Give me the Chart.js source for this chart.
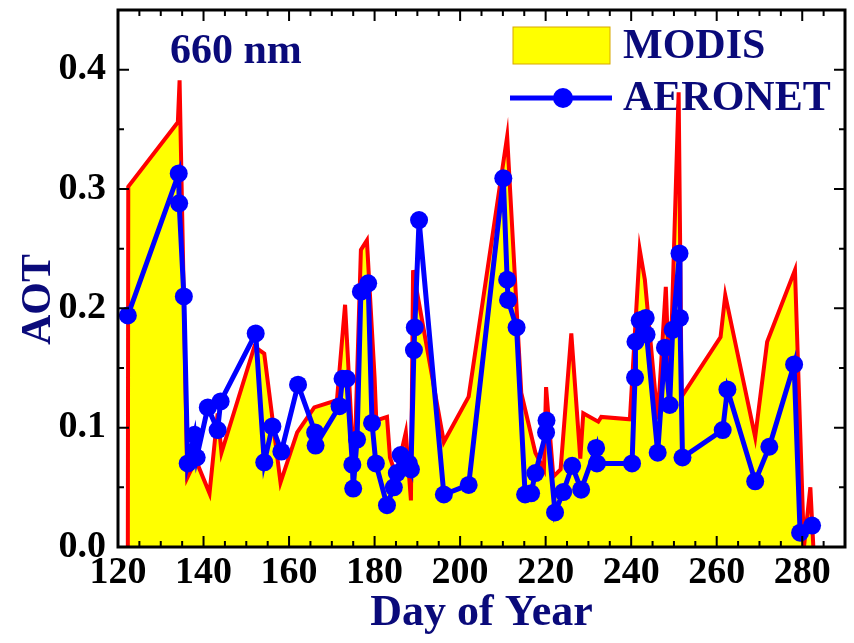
<!DOCTYPE html>
<html>
<head>
<meta charset="utf-8">
<script src="https://cdn.jsdelivr.net/npm/chart.js@4.4.1/dist/chart.umd.min.js"></script>
<style>
  html, body { margin: 0; padding: 0; background: #fff; }
  #wrap { width: 854px; height: 643px; }
</style>
</head>
<body>
<div id="wrap"><canvas id="aot" width="854" height="643"></canvas></div>
<script>
// MODIS (red outline, yellow fill)
const modisDays = [122.3, 122.4, 134.0, 134.4, 136.2, 138.2, 141.4, 143.3, 144.2, 151.9, 154.2, 158.0,
  161.9, 165.9, 171.2, 173.1, 174.2, 175.2, 176.8, 178.2, 180.0, 180.4, 182.9, 183.6, 185.0, 187.3,
  188.5, 189.0, 196.2, 202.0, 211.0, 214.3, 217.6, 219.6, 220.1, 221.8, 223.5, 226.0, 228.1, 228.8,
  232.3, 233.0, 239.7, 242.0, 243.2, 246.2, 248.1, 249.0, 251.1, 251.8, 260.9, 262.0, 269.0, 271.8,
  278.3, 280.4, 281.9, 282.6];
const modisAot = [0, 0.302, 0.356, 0.391, 0.058, 0.073, 0.045, 0.112, 0.079, 0.168, 0.162, 0.054,
  0.096, 0.117, 0.123, 0.203, 0.129, 0.059, 0.249, 0.257, 0.142, 0.106, 0.109, 0.075, 0.060, 0.096,
  0.039, 0.232, 0.088, 0.126, 0.344, 0.129, 0.079, 0.065, 0.134, 0.059, 0.065, 0.179, 0.074, 0.112,
  0.105, 0.109, 0.107, 0.249, 0.224, 0.107, 0.218, 0.129, 0.381, 0.126, 0.176, 0.211, 0.092, 0.172,
  0.232, 0, 0.050, 0];

// AERONET (blue line + dots)
const aeronetDays = [122.3, 134.2, 134.3, 135.4, 136.3, 137.9, 138.4, 141.0, 143.3, 144.0, 152.2, 154.2,
  156.1, 158.2, 162.1, 166.1, 166.2, 171.8, 172.5, 173.5, 174.8, 175.0, 175.9, 176.8, 178.5, 179.4,
  180.3, 182.9, 184.5, 185.2, 186.1, 188.0, 188.5, 189.2, 189.4, 190.4, 196.2, 202.0, 210.1, 211.0,
  211.2, 213.2, 215.2, 216.6, 217.6, 220.1, 220.2, 222.2, 224.1, 226.2, 228.3, 231.8, 232.0, 240.2,
  240.9, 241.0, 242.0, 243.4, 243.6, 246.2, 247.9, 249.0, 249.7, 251.3, 251.4, 252.0, 261.4, 262.5,
  269.0, 272.3, 278.1, 279.5, 282.3];
const aeronetAot = [0.194, 0.313, 0.288, 0.210, 0.070, 0.094, 0.075, 0.117, 0.098, 0.122, 0.179, 0.071,
  0.101, 0.080, 0.136, 0.096, 0.085, 0.118, 0.141, 0.141, 0.069, 0.049, 0.090, 0.214, 0.221, 0.104,
  0.070, 0.035, 0.050, 0.062, 0.077, 0.070, 0.065, 0.165, 0.184, 0.274, 0.044, 0.052, 0.309, 0.224,
  0.207, 0.184, 0.044, 0.045, 0.062, 0.096, 0.106, 0.029, 0.046, 0.068, 0.048, 0.083, 0.070, 0.070,
  0.142, 0.172, 0.190, 0.192, 0.178, 0.079, 0.167, 0.119, 0.182, 0.246, 0.192, 0.075, 0.098, 0.132,
  0.055, 0.084, 0.153, 0.012, 0.018];

const serif = "'Liberation Serif', 'Times New Roman', serif";
const navy = "#0a0a7a";

function pairs(xs, ys) {
  return xs.map((x, i) => ({ x: x, y: ys[i] }));
}

function isMajorY(v) { return Math.round(v * 100) % 10 === 0; }

// inward ticks on all four sides + frame
const frameTicks = {
  id: "frameTicks",
  afterDatasetsDraw(chart) {
    const { ctx, chartArea: a, scales } = chart;
    ctx.save();
    ctx.strokeStyle = "#000";
    ctx.lineWidth = 2;
    ctx.beginPath();
    scales.x.ticks.forEach(t => {
      const px = scales.x.getPixelForValue(t.value);
      const len = t.value % 20 === 0 ? 11 : 6;
      ctx.moveTo(px, a.bottom); ctx.lineTo(px, a.bottom - len);
      ctx.moveTo(px, a.top); ctx.lineTo(px, a.top + len);
    });
    scales.y.ticks.forEach(t => {
      const py = scales.y.getPixelForValue(t.value);
      const len = isMajorY(t.value) ? 11 : 6;
      ctx.moveTo(a.left, py); ctx.lineTo(a.left + len, py);
      ctx.moveTo(a.right, py); ctx.lineTo(a.right - len, py);
    });
    ctx.stroke();
    ctx.lineWidth = 3;
    ctx.strokeRect(a.left, a.top, a.right - a.left, a.bottom - a.top);
    ctx.restore();
  }
};

// legend + wavelength label, under the data lines
const notes = {
  id: "notes",
  beforeDatasetsDraw(chart) {
    const ctx = chart.ctx;
    ctx.save();
    ctx.fillStyle = navy;
    ctx.textBaseline = "middle";
    ctx.font = "bold 42px " + serif;
    ctx.fillText("660 nm", 170, 52);

    ctx.fillStyle = "#ffff00";
    ctx.fillRect(513, 27, 97, 37);
    ctx.strokeStyle = "#d8a800";
    ctx.lineWidth = 1;
    ctx.strokeRect(513, 27, 97, 37);

    ctx.strokeStyle = "#0000ff";
    ctx.lineWidth = 5;
    ctx.beginPath();
    ctx.moveTo(510, 98); ctx.lineTo(612, 98);
    ctx.stroke();
    ctx.fillStyle = "#0000ff";
    ctx.beginPath();
    ctx.arc(563, 98, 10, 0, Math.PI * 2);
    ctx.fill();

    ctx.fillStyle = navy;
    ctx.font = "bold 42px " + serif;
    ctx.fillText("MODIS", 623, 47);
    ctx.fillText("AERONET", 623, 99);
    ctx.restore();
  }
};

new Chart(document.getElementById("aot"), {
  type: "line",
  data: {
    datasets: [
      {
        label: "AERONET",
        data: pairs(aeronetDays, aeronetAot),
        borderColor: "#0000ff",
        backgroundColor: "#0000ff",
        borderWidth: 5,
        pointRadius: 9,
        pointBorderWidth: 0,
        fill: false,
        order: 0,
      },
      {
        label: "MODIS",
        data: pairs(modisDays, modisAot),
        borderColor: "#ff0000",
        backgroundColor: "#ffff00",
        borderWidth: 4,
        pointRadius: 0,
        fill: "origin",
        order: 1,
      },
    ],
  },
  options: {
    responsive: false,
    animation: false,
    layout: { padding: { top: 10, right: 6, left: 0, bottom: 0 } },
    plugins: { legend: { display: false }, tooltip: { enabled: false } },
    scales: {
      x: {
        type: "linear",
        min: 120,
        max: 290,
        grid: { display: false, drawTicks: false },
        border: { display: false },
        afterFit: s => {
          s.height = 96;
          s.paddingLeft = 0;
          s.paddingRight = 0;
        },
        ticks: {
          stepSize: 5,
          autoSkip: false,
          maxRotation: 0,
          padding: 3,
          color: "#000",
          font: { family: serif, size: 38, weight: "bold" },
          callback: v => (v % 20 === 0 ? v : ""),
        },
        title: {
          display: true,
          text: "Day of Year",
          color: navy,
          font: { family: serif, size: 44, weight: "bold" },
          padding: { top: 0, bottom: 3 },
        },
      },
      y: {
        min: 0,
        max: 0.45,
        grid: { display: false, drawTicks: false },
        border: { display: false },
        afterFit: s => {
          s.width = 118;
          s.paddingTop = 0;
          s.paddingBottom = 0;
        },
        ticks: {
          stepSize: 0.05,
          autoSkip: false,
          padding: 12,
          color: "#000",
          font: { family: serif, size: 38, weight: "bold" },
          callback: v => (isMajorY(v) ? (Math.round(v * 10) / 10).toFixed(1) : ""),
        },
        title: {
          display: true,
          text: "AOT    ",
          color: navy,
          font: { family: serif, size: 42, weight: "bold" },
          padding: { top: 14, bottom: 0 },
        },
      },
    },
  },
  plugins: [notes, frameTicks],
});
</script>
</body>
</html>
